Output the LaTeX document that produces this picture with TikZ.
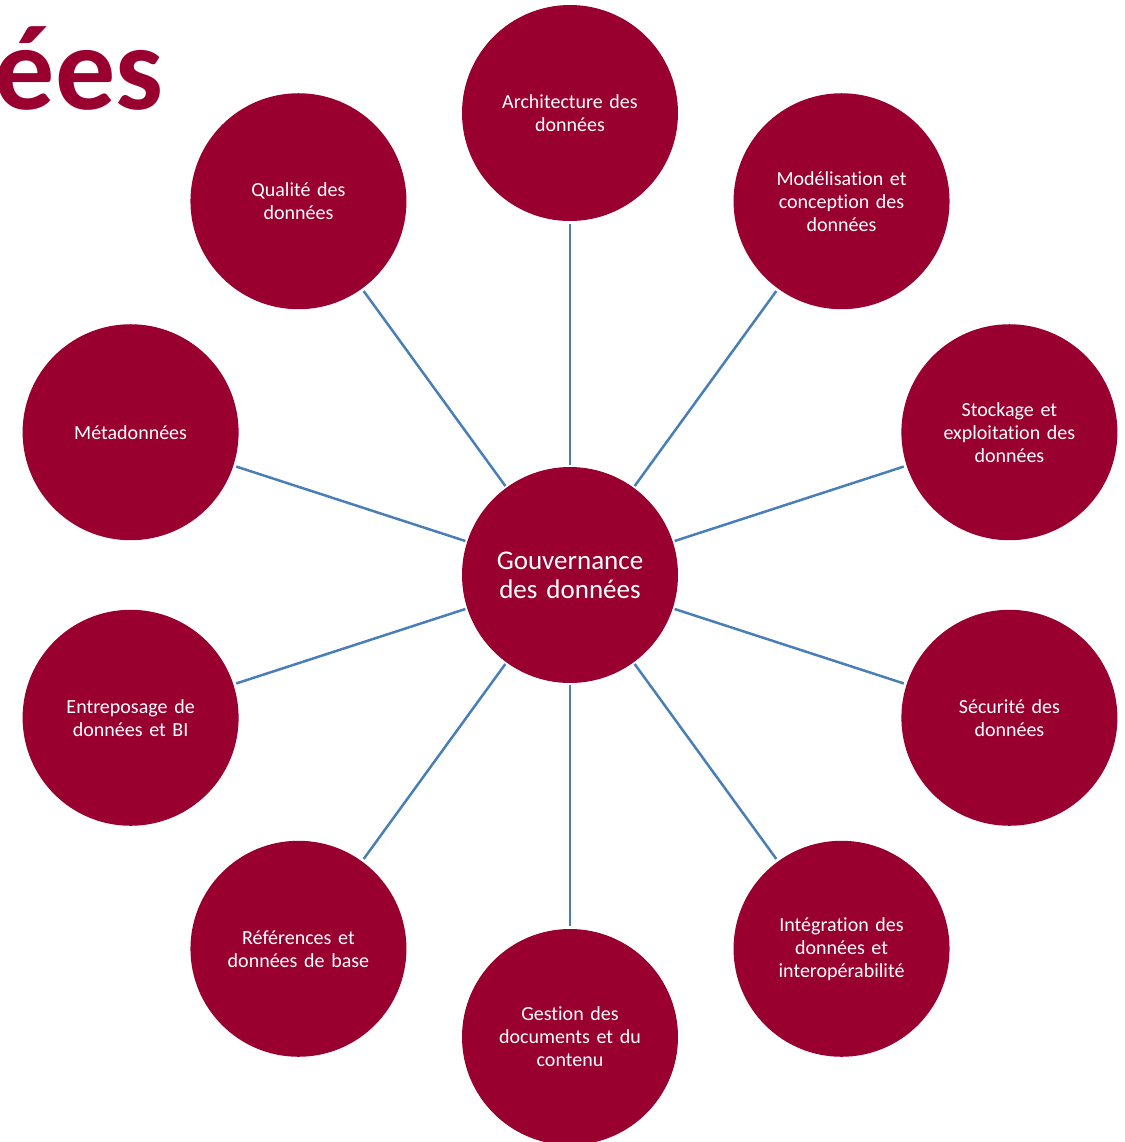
\documentclass[tikz,border=0pt]{standalone}
\usepackage{fontspec}
\setmainfont{Carlito}[Ligatures=NoCommon]
\definecolor{wine}{RGB}{153,0,48}
\definecolor{spoke}{RGB}{74,126,183}

\begin{document}
\begin{tikzpicture}[
  x=0.5pt,y=0.5pt,
  topic/.style={
    circle,
    fill=wine,
    draw=none,
    minimum size=108pt,
    inner sep=0pt,
    outer sep=0pt,
    text=white,
    align=center,
    text width=78pt,
    font=\fontsize{10}{11.5}\selectfont
  },
  hubnode/.style={
    topic,
    font=\fontsize{13.5}{14.5}\selectfont
  },
  link/.style={draw=spoke,line width=1.25pt,shorten <=1pt,shorten >=1.5pt}
]
  \useasboundingbox (0,0) rectangle (1125,-1142);

  % cut-off title
  \node[anchor=base east,inner sep=0pt,text=wine,font=\fontsize{60}{60}\selectfont\bfseries]
    (title) at (164,-109) {ées};

  \begin{scope}[shift={(570,-575)}]
    \node[hubnode] (hub) at (0,0) {Gouvernance\\des données};

    \node[topic] (archi)   at (90:462)  {Architecture des\\données};
    \node[topic] (model)   at (54:462)  {Modélisation et\\conception des\\données};
    \node[topic] (stock)   at (18:462)  {Stockage et\\exploitation des\\données};
    \node[topic] (secu)    at (-18:462) {Sécurité des\\données};
    \node[topic] (integ)   at (-54:462) {Intégration des\\données et\\interopérabilité};
    \node[topic] (gestion) at (-90:462) {Gestion des\\documents et du\\contenu};
    \node[topic] (refs)    at (234:462) {Références et\\données de base};
    \node[topic] (entrep)  at (198:462) {Entreposage de\\données et BI};
    \node[topic] (meta)    at (162:462) {Métadonnées};
    \node[topic] (qual)    at (126:462) {Qualité des\\données};
  \end{scope}

  \path[link]
    (hub) edge (archi)
    (hub) edge (model)
    (hub) edge (stock)
    (hub) edge (secu)
    (hub) edge (integ)
    (hub) edge (gestion)
    (hub) edge (refs)
    (hub) edge (entrep)
    (hub) edge (meta)
    (hub) edge (qual);
\end{tikzpicture}
\end{document}
